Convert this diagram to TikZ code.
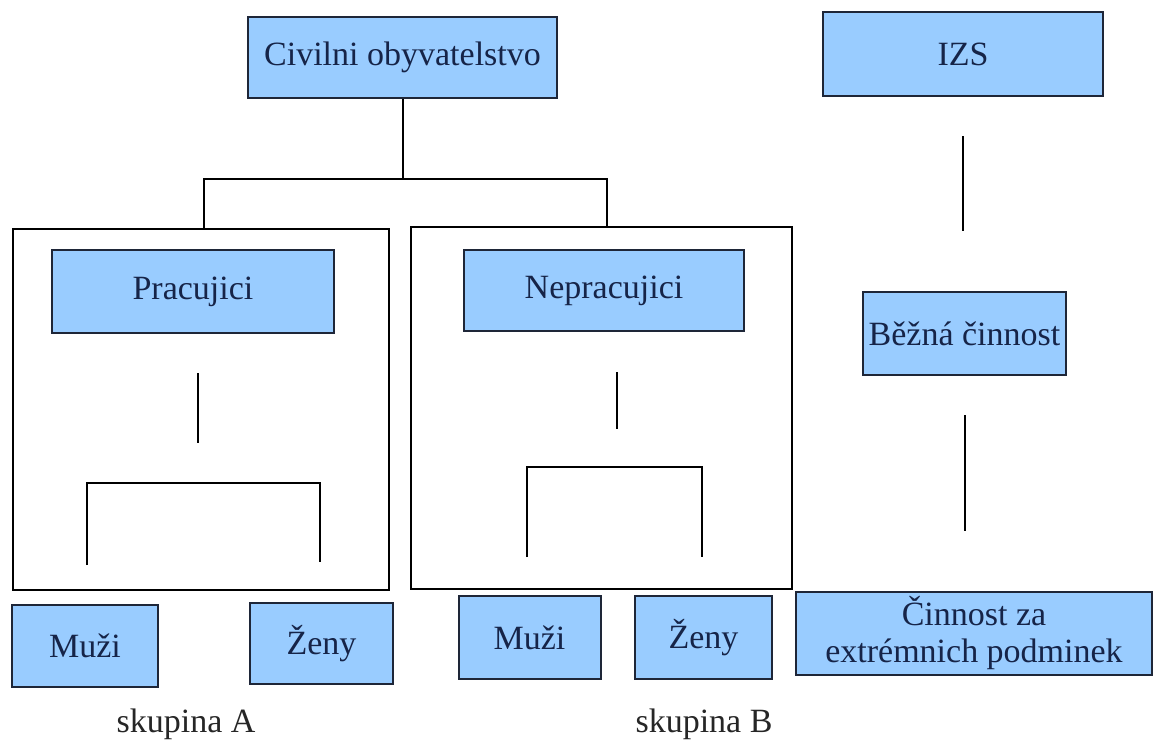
\documentclass[tikz,border=0pt]{standalone}
\usepackage{fontspec}
\setmainfont{Liberation Serif}
\usetikzlibrary{positioning}
\definecolor{boxblue}{RGB}{153,204,255}
\definecolor{boxline}{RGB}{30,38,56}
\definecolor{boxtext}{RGB}{22,36,72}

\begin{document}
\begin{tikzpicture}[
    x=1pt, y=-1pt,
    every node/.style={font=\fontsize{34}{37}\selectfont},
    box/.style={draw=boxline, fill=boxblue, line width=2pt, inner sep=0pt, align=center, text=boxtext},
    frame/.style={draw, line width=2pt, inner sep=0pt},
    link/.style={line width=2pt},
    gap/.style={link, shorten <=39pt, shorten >=60pt},
    caption/.style={text=black!85}
]
\useasboundingbox[fill=white] (0,0) rectangle (1157,744);

% left part
\node[box, minimum width=309pt, minimum height=81pt] (civ) at (402.5,57.5) {Civilni obyvatelstvo};
\node[frame, minimum width=376pt, minimum height=361pt] (fA) at (201,409.5) {};
\node[frame, minimum width=381pt, minimum height=362pt] (fB) at (601.5,408) {};
\node[box, minimum width=282pt, minimum height=83pt] (prac) at (193,291.5) {Pracujici};
\node[box, minimum width=280pt, minimum height=81pt] (neprac) at (604,290.5) {Nepracujici};

\node[box, minimum width=146pt, minimum height=82pt] (muzA) at (85,646) {Muži};
\node[box, minimum width=143pt, minimum height=81pt] (zenA) at (321.5,643.5) {Ženy};
\node[box, minimum width=142pt, minimum height=83pt] (muzB) at (529.5,637.5) {Muži};
\node[box, minimum width=137pt, minimum height=83pt] (zenB) at (703.5,637.5) {Ženy};
\node[caption] (skupA) at (186,724) {skupina A};
\node[caption] (skupB) at (704,724) {skupina B};

% right part
\node[box, minimum width=280pt, minimum height=84pt] (izs) at (963,54) {IZS};
\node[box, minimum width=203pt, minimum height=83pt] (bez) at (964.5,333.5) {Běžná činnost};
\node[box, minimum width=356pt, minimum height=83pt] (cin) at (974,633.5) {Činnost za\\extrémnich podminek};

\coordinate (split) at (402.5,179);
\draw[link] (civ.south) -- (split);
\draw[link] ([xshift=3pt]fA.north) |- (split) -| ([xshift=5.5pt]fB.north);

% loose strokes inside the frames
\coordinate (stemA1) at (198,373);
\coordinate (stemA2) at (198,443);
\coordinate (legA1) at (87,565);
\coordinate (legA2) at (320,562);
\coordinate (stemB1) at (617,372);
\coordinate (stemB2) at (617,429);
\coordinate (legB1) at (527,557);
\coordinate (legB2) at (702,557);
\draw[link] (stemA1) -- (stemA2);
\draw[link] (legA1) |- (320,483) -- (legA2);
\draw[link] (stemB1) -- (stemB2);
\draw[link] (legB1) |- (702,467) -- (legB2);

\draw[gap] (izs.south) -- (izs.south |- bez.north);
\draw[gap] (bez.south) -- (bez.south |- cin.north);
\end{tikzpicture}
\end{document}
